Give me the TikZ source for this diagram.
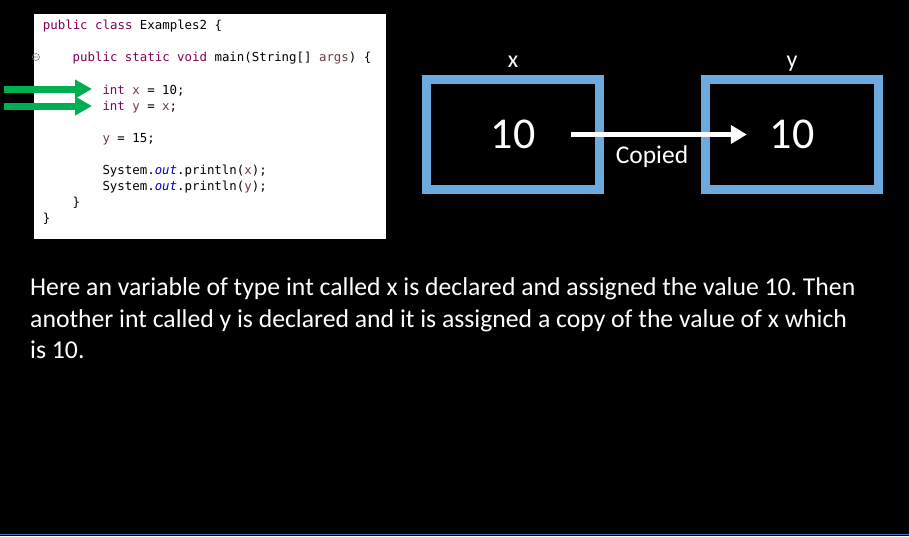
\documentclass[tikz,border=0pt]{standalone}
\usepackage{fontspec}
\setmainfont{Carlito}
\newfontfamily\codefont{DejaVu Sans Mono}
\usetikzlibrary{positioning,arrows.meta}
\definecolor{boxblue}{HTML}{6CA9DC}
\definecolor{arrowgreen}{HTML}{00B050}
\definecolor{kwcol}{HTML}{7F0055}
\definecolor{varcol}{HTML}{6A3E3E}
\definecolor{fldcol}{HTML}{0000C0}
\definecolor{rulecol}{HTML}{4472C4}
\tikzset{
  cell/.style={draw=boxblue, line width=9pt, minimum width=173pt, minimum height=110pt},
  val/.style={text=white, inner sep=0pt, font=\fontsize{44}{50}\selectfont},
  lbl/.style={text=white, inner sep=0pt, text depth=0pt, font=\fontsize{24}{28}\selectfont},
  copyarrow/.style={draw=white, line width=5.5pt, -{Triangle[length=16pt,width=18pt]}},
  pointer/.style={draw=arrowgreen, line width=7pt, -{Triangle[length=17pt,width=18pt]}},
}
\newcommand{\keyw}[1]{\textcolor{kwcol}{#1}}
\newcommand{\varname}[1]{\textcolor{varcol}{#1}}
\newcommand{\fieldname}[1]{\textcolor{fldcol}{\textit{#1}}}
\newcommand{\codeind}{\hspace*{29.8pt}}

\begin{document}
\begin{tikzpicture}[x=1pt, y=-1pt, >=Latex]
\useasboundingbox (0,0) rectangle (909,536);
\fill[black] (0,0) rectangle (909,536);

% code panel
\node (panel) [fill=white, inner sep=0pt, minimum width=352pt, minimum height=225pt] at (210,126.5) {};
\node (code) [anchor=north west, inner sep=0pt, align=left,
  font={\codefont\fontsize{12.4}{16.1}\selectfont\frenchspacing}] at (42.7,20.1) {%
\keyw{public class} Examples2 \{\\
{}\\
\codeind\keyw{public static void} main(String[] \varname{args}) \{\\
{}\\
\codeind\codeind\keyw{int} \varname{x} = 10;\\
\codeind\codeind\keyw{int} \varname{y} = \varname{x};\\
{}\\
\codeind\codeind\varname{y} = 15;\\
{}\\
\codeind\codeind System.\fieldname{out}.println(\varname{x});\\
\codeind\codeind System.\fieldname{out}.println(\varname{y});\\
\codeind\}\\
\}};
\draw[gray, line width=0.6pt] (36,57) circle (3.5pt) (34,57) -- (38,57);

% pointers to the two lines
\coordinate (p1start) at (4,89);
\coordinate (p1end) at (92,89);
\coordinate (p2start) at (4,106);
\coordinate (p2end) at (92,106);
\draw[pointer] (p1start) -- (p1end);
\draw[pointer] (p2start) -- (p2end);

% variables
\node (xbox) [cell] at (513,134.5) {};
\node (ybox) [cell] at (792,134.5) {};
\node (xlbl) [lbl, above=7.5pt of xbox] {x};
\node (ylbl) [lbl, above=7.5pt of ybox] {y};
\node (xval) [val] at (xbox.center) {10};
\node (yval) [val] at (ybox.center) {10};

\draw[copyarrow] ([xshift=35.7pt]xval.east) -- ([xshift=-22.7pt]yval.west)
  node[pos=0.46, anchor=base, yshift=-28.5pt, text=white, font=\fontsize{25.5}{30}\selectfont] {Copied};

% description
\node (desc) [text=white, anchor=north west, inner sep=0pt, align=left,
  font=\fontsize{25.7}{31.5}\selectfont\frenchspacing] at (30,277.5) {Here an variable of type int called x is declared and assigned the value 10. Then\\
another int called y is declared and it is assigned a copy of the value of x which\\
is 10.};

\draw[rulecol, line width=1.5pt] (0,534.5) -- (909,534.5);
\end{tikzpicture}
\end{document}
